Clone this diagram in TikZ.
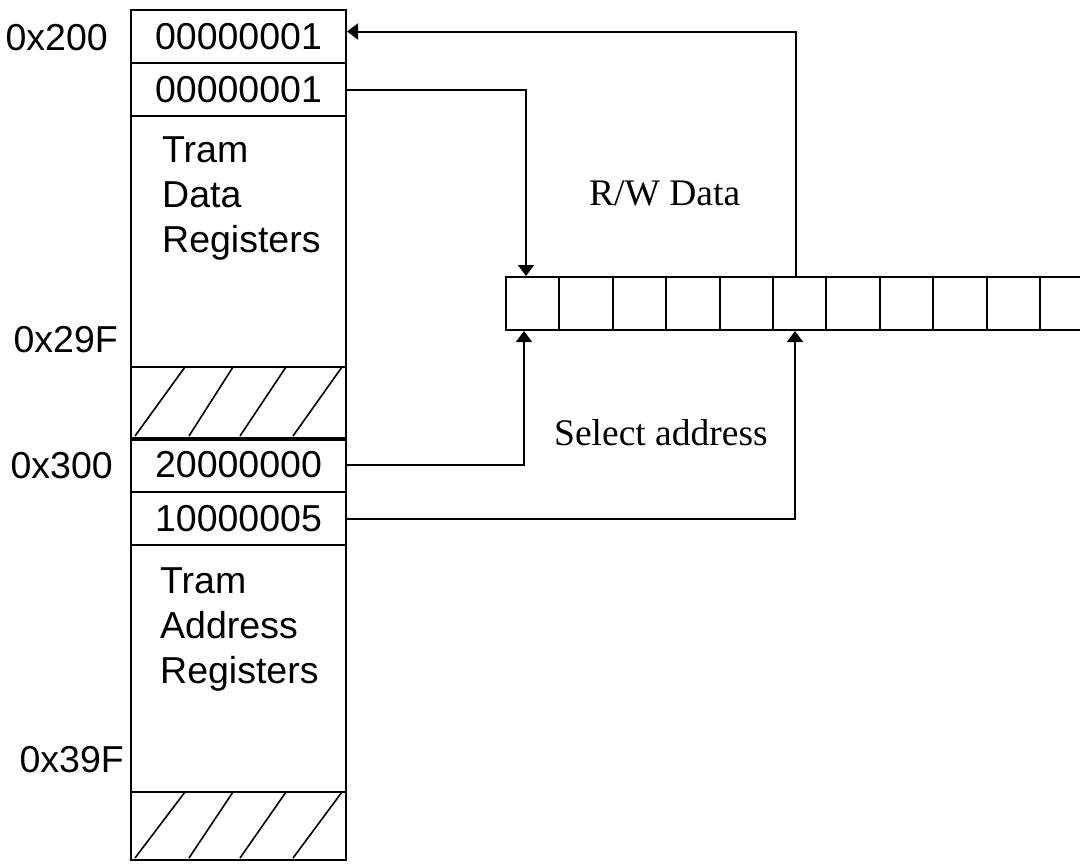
\documentclass[tikz,border=0pt]{standalone}
\usepackage{fontspec}
\setmainfont{Liberation Serif}
\newfontfamily\sansf{Liberation Sans}
\usetikzlibrary{arrows.meta}
\tikzset{
  cellbox/.style={draw, line width=2pt, inner sep=0pt, anchor=north west,
    minimum width=215pt, font=\sansf\fontsize{37.5}{45}\selectfont},
  arrcell/.style={draw, line width=2pt, inner sep=0pt, anchor=north west,
    minimum width=53.4pt, minimum height=53pt},
  addr/.style={inner sep=0pt, anchor=east, font=\sansf\fontsize{37.5}{45}\selectfont},
  regtext/.style={inner sep=0pt, anchor=north west, align=left,
    font=\sansf\fontsize{37.5}{45}\selectfont},
  serifl/.style={inner sep=0pt, anchor=base west, font=\fontsize{37.5}{45}\selectfont},
  conn/.style={line width=2pt, -{Triangle[width=16pt,length=11pt]}},
  hatchline/.style={line width=1.6pt}
}
\begin{document}
\begin{tikzpicture}[x=1pt,y=-1pt]
\useasboundingbox (0,0) rectangle (1080,863);
% memory column
\node[cellbox, minimum height=53pt] (r1) at (130,9) {00000001};
\node[cellbox, minimum height=53pt] (r2) at (130,62) {00000001};
\node[cellbox, minimum height=251pt] (dreg) at (130,115) {};
\node[cellbox, minimum height=71pt] (h1) at (130,366) {};
\node[cellbox, minimum height=54pt] (r3) at (130,437) {20000000};
\node[cellbox, minimum height=53pt] (r4) at (130,491) {10000005};
\node[cellbox, minimum height=247pt] (areg) at (130,544) {};
\node[cellbox, minimum height=68pt] (h2) at (130,791) {};
\draw[line width=4.5pt] (h1.south west) -- (h1.south east);
% hatching
\foreach \a/\b in {135/185,189/233,240/286,293/342}{
  \draw[hatchline] (\a,436) -- (\b,367);
  \draw[hatchline] (\a,858) -- (\b,792);
}
% region texts
\node[regtext] (dtxt) at (162,136) {Tram\\Data\\Registers};
\node[regtext] (atxt) at (160,567) {Tram\\Address\\Registers};
% address labels
\node[addr] (a200) at (108,38) {0x200};
\node[addr] (a29f) at (118,340) {0x29F};
\node[addr] (a300) at (113,466) {0x300};
\node[addr] (a39f) at (124,760) {0x39F};
% register array
\foreach \i in {1,...,11}{
  \node[arrcell] (c\i) at ({505+(\i-1)*53.4},276) {};
}
% labels
\node[serifl] (rw) at (589,205) {R/W Data};
\node[serifl] (sel) at (554,445) {Select address};
% connectors
\draw[conn] ([xshift=24pt]c6.north west) |- ([yshift=5pt]r1.east);
\draw[conn] (r2.east) -| ([xshift=21pt]c1.north west);
\draw[conn] (r3.east) -| ([xshift=19pt]c1.south west);
\draw[conn] (r4.east) -| ([xshift=23pt]c6.south west);
\end{tikzpicture}
\end{document}
